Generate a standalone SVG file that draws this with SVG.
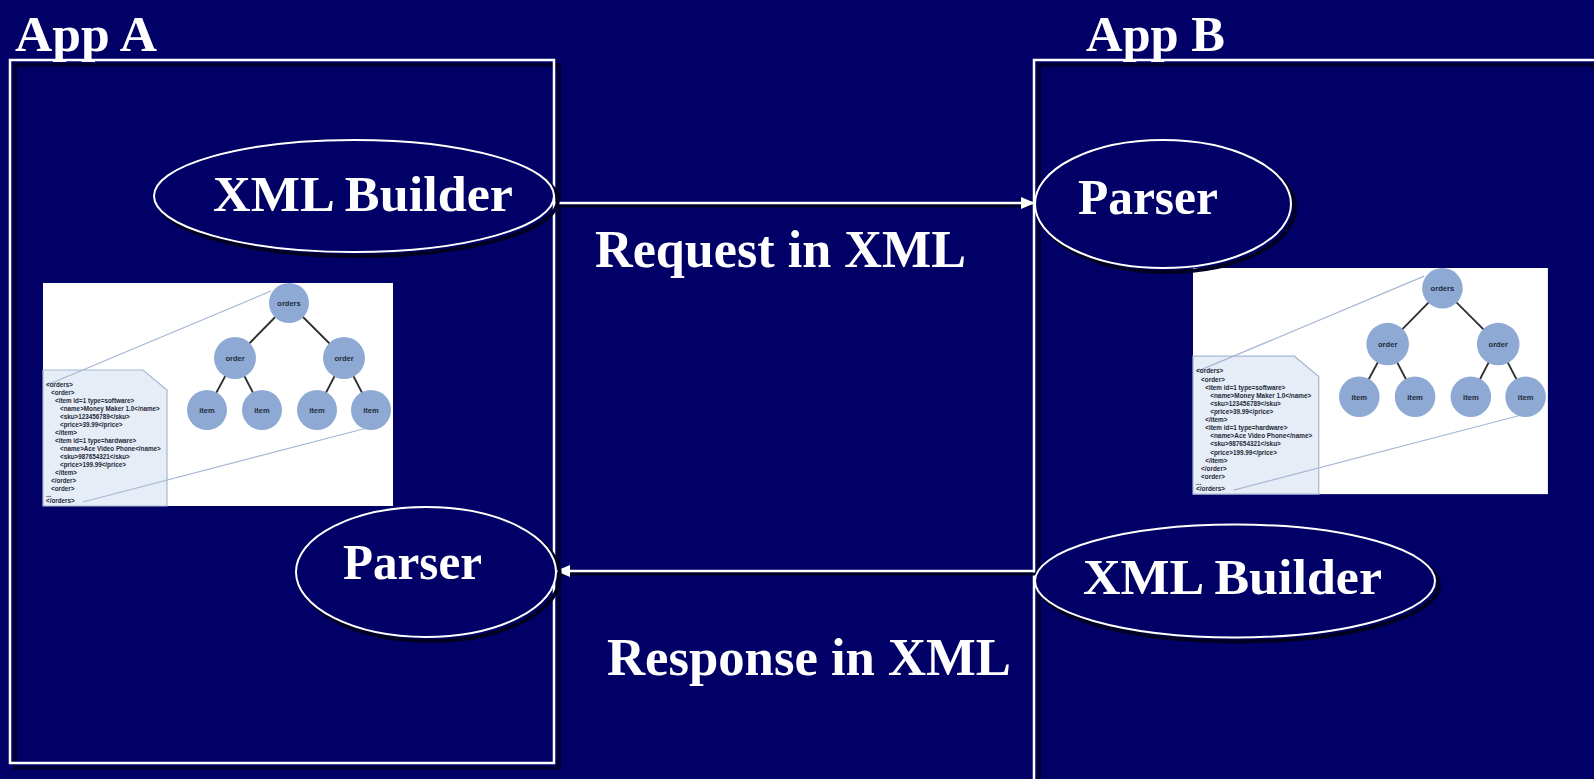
<svg xmlns="http://www.w3.org/2000/svg" xmlns:xlink="http://www.w3.org/1999/xlink" width="1594" height="779" viewBox="0 0 1594 779">
<style>
.title{font-family:"Liberation Serif","Times New Roman",serif;font-weight:bold;font-size:50px;fill:#ffffff}
.lbl{font-family:"Liberation Serif","Times New Roman",serif;font-weight:bold;font-size:52px;fill:#ffffff}
.box{fill:none;stroke:#ffffff;stroke-width:2.5}
.boxsh{fill:none;stroke:#000033;stroke-width:4}
.ell{fill:#000066;stroke:#ffffff;stroke-width:2}
.ellsh{fill:none;stroke:#000022;stroke-width:4}
.conn{stroke:#ffffff;stroke-width:2.5;fill:none}
.connsh{stroke:#000022;stroke-width:3;fill:none}
.code{font-family:"Liberation Sans",Arial,sans-serif;font-weight:bold;font-size:6.3px;fill:#1e2a3a}
.cl{font-family:"Liberation Sans",Arial,sans-serif;font-weight:bold;font-size:7.5px;fill:#1e2a3a;text-anchor:middle}
.circ{fill:#8eaad4}
.tl{stroke:#2e2e2e;stroke-width:1.8}
.call{stroke:#a6b8d4;stroke-width:1.2;fill:none}
</style>
<defs>
<marker id="ah" markerWidth="14" markerHeight="12" refX="13" refY="6" orient="auto" markerUnits="userSpaceOnUse">
<path d="M0,0 L14,6 L0,12 z" fill="#ffffff"/>
</marker>
<g id="xmlfig">
<rect x="0" y="0" width="350" height="223" fill="#ffffff"/>
<polygon points="0,87 100,87 124,107 124,223 0,223" fill="#e6edf6" stroke="#a6b8d4" stroke-width="1.2"/>
<line class="call" x1="4" y1="102" x2="228" y2="8"/>
<line class="call" x1="40" y1="219" x2="324" y2="145"/>
<line class="tl" x1="246" y1="20" x2="192" y2="75"/>
<line class="tl" x1="246" y1="20" x2="301" y2="75"/>
<line class="tl" x1="192" y1="75" x2="164" y2="127"/>
<line class="tl" x1="192" y1="75" x2="219" y2="127"/>
<line class="tl" x1="301" y1="75" x2="274" y2="127"/>
<line class="tl" x1="301" y1="75" x2="328" y2="127"/>
<circle class="circ" cx="246" cy="20" r="20"/>
<circle class="circ" cx="192" cy="75" r="21"/>
<circle class="circ" cx="301" cy="75" r="21"/>
<circle class="circ" cx="164" cy="127" r="20"/>
<circle class="circ" cx="219" cy="127" r="20"/>
<circle class="circ" cx="274" cy="127" r="20"/>
<circle class="circ" cx="328" cy="127" r="20"/>
<text class="cl" x="246" y="23">orders</text>
<text class="cl" x="192" y="78">order</text>
<text class="cl" x="301" y="78">order</text>
<text class="cl" x="164" y="130">item</text>
<text class="cl" x="219" y="130">item</text>
<text class="cl" x="274" y="130">item</text>
<text class="cl" x="328" y="130">item</text>
<text class="code" x="3" y="104">&lt;orders&gt;</text>
<text class="code" x="8" y="112">&lt;order&gt;</text>
<text class="code" x="12" y="120">&lt;item id=1 type=software&gt;</text>
<text class="code" x="17" y="128">&lt;name&gt;Money Maker 1.0&lt;/name&gt;</text>
<text class="code" x="17" y="136">&lt;sku&gt;123456789&lt;/sku&gt;</text>
<text class="code" x="17" y="144">&lt;price&gt;39.99&lt;/price&gt;</text>
<text class="code" x="12" y="152">&lt;/item&gt;</text>
<text class="code" x="12" y="160">&lt;item id=1 type=hardware&gt;</text>
<text class="code" x="17" y="168">&lt;name&gt;Ace Video Phone&lt;/name&gt;</text>
<text class="code" x="17" y="176">&lt;sku&gt;987654321&lt;/sku&gt;</text>
<text class="code" x="17" y="184">&lt;price&gt;199.99&lt;/price&gt;</text>
<text class="code" x="12" y="192">&lt;/item&gt;</text>
<text class="code" x="8" y="200">&lt;/order&gt;</text>
<text class="code" x="8" y="208">&lt;order&gt;</text>
<text class="code" x="3" y="214">...</text>
<text class="code" x="3" y="220">&lt;/orders&gt;</text>
</g>
</defs>
<rect x="0" y="0" width="1594" height="779" fill="#000066"/>

<g id="appA">
<rect class="boxsh" x="15" y="65" width="544" height="703"/>
<rect class="box" x="10" y="60" width="544" height="703"/>
<text class="title" x="15" y="51" textLength="142" lengthAdjust="spacingAndGlyphs">App A</text>
</g>
<g id="appB">
<rect class="boxsh" x="1039" y="65" width="600" height="760"/>
<rect class="box" x="1034" y="60" width="600" height="760"/>
<text class="title" x="1086" y="51" textLength="139" lengthAdjust="spacingAndGlyphs">App B</text>
</g>

<g id="figA"><use xlink:href="#xmlfig" href="#xmlfig" transform="translate(43,283)"/></g>
<g id="figB"><use xlink:href="#xmlfig" href="#xmlfig" transform="translate(1193,268) scale(1.014)"/></g>

<g id="connectors">
<line class="connsh" x1="557" y1="206" x2="1030" y2="206"/>
<line class="conn" x1="555" y1="203" x2="1034" y2="203" marker-end="url(#ah)"/>
<line class="connsh" x1="1036" y1="574" x2="562" y2="574"/>
<line class="conn" x1="1034" y1="571" x2="557" y2="571" marker-end="url(#ah)"/>
<text class="lbl" x="595" y="267" textLength="371" lengthAdjust="spacingAndGlyphs">Request in XML</text>
<text class="lbl" x="607" y="675" textLength="404" lengthAdjust="spacingAndGlyphs">Response in XML</text>
</g>

<g id="builderA">
<ellipse class="ellsh" cx="358" cy="200" rx="200" ry="56"/>
<ellipse class="ell" cx="354" cy="196" rx="200" ry="56"/>
<text class="title" x="213" y="211" textLength="300" lengthAdjust="spacingAndGlyphs">XML Builder</text>
</g>
<g id="parserB">
<ellipse class="ellsh" cx="1167" cy="208" rx="128" ry="64"/>
<ellipse class="ell" cx="1163" cy="204" rx="128" ry="64"/>
<text class="title" x="1078" y="214" textLength="140" lengthAdjust="spacingAndGlyphs">Parser</text>
</g>
<g id="parserA">
<ellipse class="ellsh" cx="430" cy="576" rx="130" ry="65"/>
<ellipse class="ell" cx="426" cy="572" rx="130" ry="65"/>
<text class="title" x="343" y="579" textLength="139" lengthAdjust="spacingAndGlyphs">Parser</text>
</g>
<g id="builderB">
<ellipse class="ellsh" cx="1239" cy="585" rx="200" ry="56.5"/>
<ellipse class="ell" cx="1235" cy="581" rx="200" ry="56.5"/>
<text class="title" x="1083" y="594" textLength="299" lengthAdjust="spacingAndGlyphs">XML Builder</text>
</g>
</svg>
